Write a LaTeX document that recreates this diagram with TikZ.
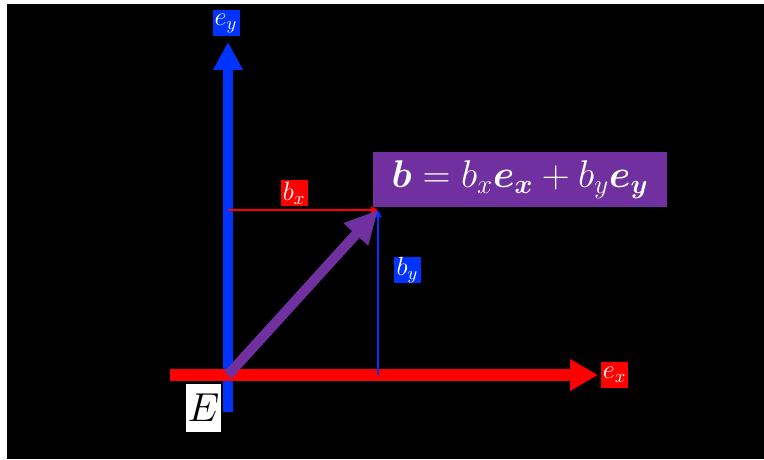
\RequirePackage{fix-cm}
\documentclass[tikz,border=0pt]{standalone}
\usepackage{amsmath,bm}
\usetikzlibrary{arrows.meta}
\definecolor{axisblue}{RGB}{0,51,255}
\definecolor{axisred}{RGB}{255,0,0}
\definecolor{vecpurple}{RGB}{112,48,160}

\begin{document}
\begin{tikzpicture}[line join=round,
  tag/.style={inner sep=0pt,minimum width=0.54cm,minimum height=0.52cm,text=white,font=\fontsize{15}{17}\selectfont}]
\useasboundingbox (0,0) rectangle (15.28,9.18);
\fill[white] (0,0) rectangle (15.28,9.18);
\fill[black] (0.14,0) rectangle (15.28,9.10);
% points of the frame and of the vector
\coordinate (O) at (4.56,1.68);
\coordinate (B) at (7.56,4.98);
\coordinate (Bx) at (4.56,4.98);
\coordinate (By) at (7.56,1.68);
\coordinate (ybot) at (4.56,0.94);
\coordinate (ytip) at (4.56,8.34);
\coordinate (xleft) at (3.40,1.68);
\coordinate (xtip) at (11.96,1.68);
% axes
\draw[axisblue,line width=5.7pt,-{Triangle[length=0.56cm,width=0.56cm]}] (ybot) -- (ytip);
\draw[axisred,line width=6.8pt,-{Triangle[length=0.56cm,width=0.6cm]}] (xleft) -- (xtip);
% components
\draw[axisred,line width=1.1pt,-{Triangle[length=4pt,width=4pt]}] (Bx) -- (B);
\draw[axisblue,line width=0.9pt,-{Triangle[length=4pt,width=4pt]}] (By) -- (B);
% the vector b
\draw[vecpurple,line width=5.7pt,-{Triangle[length=0.66cm,width=0.62cm]}] (O) -- (B);
% labels
\node[tag,fill=axisblue] (eylab) at (4.52,8.71) {$e_y$};
\node[tag,fill=axisred] (exlab) at (12.29,1.68) {$e_x$};
\node[tag,fill=axisred] (bxlab) at (5.88,5.32) {$b_x$};
\node[tag,fill=axisblue] (bylab) at (8.15,3.78) {$b_y$};
\node[fill=white,inner sep=0pt,minimum width=0.7cm,minimum height=0.96cm,font=\fontsize{23}{26}\selectfont] (Elab) at (4.07,1.02) {$E$};
\node[fill=vecpurple,text=white,inner sep=0pt,minimum width=5.88cm,minimum height=1.1cm,font=\fontsize{22}{26}\selectfont] (blab) at (10.40,5.59) {$\bm{b}=b_x\bm{e}_{\bm{x}}+b_y\bm{e}_{\bm{y}}$};
\end{tikzpicture}
\end{document}
